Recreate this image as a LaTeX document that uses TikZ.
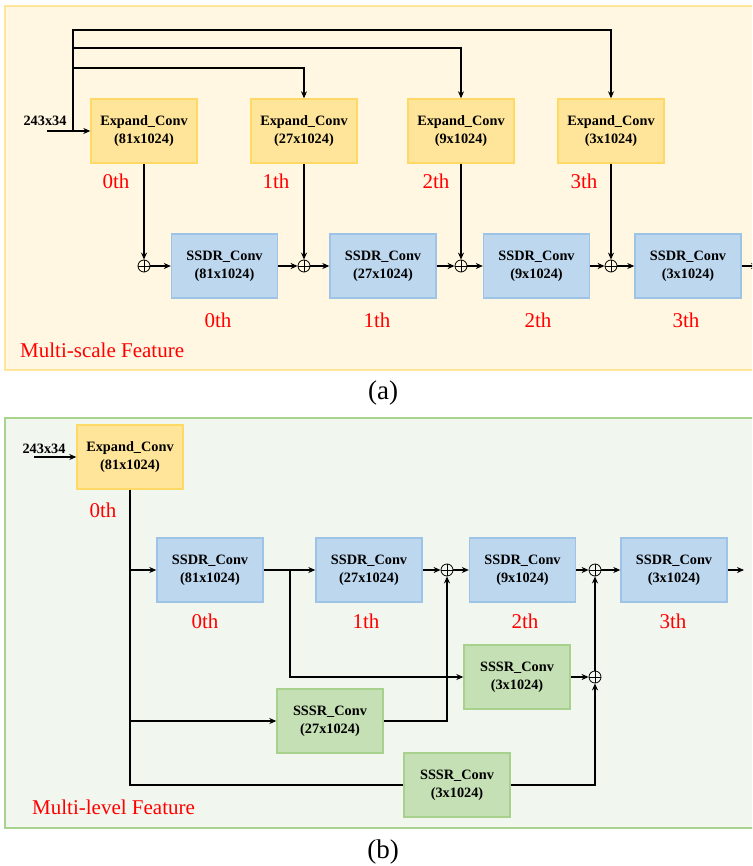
\documentclass[tikz,border=0pt]{standalone}
\usepackage{fontspec}
\setmainfont{Liberation Serif}
\usetikzlibrary{arrows.meta,calc}
\definecolor{pafill}{HTML}{FFF7E1}
\definecolor{padraw}{HTML}{FFE599}
\definecolor{pbfill}{HTML}{F1F6EE}
\definecolor{pbdraw}{HTML}{A9D48F}
\definecolor{expfill}{HTML}{FFE599}
\definecolor{expdraw}{HTML}{FFD966}
\definecolor{sdfill}{HTML}{BDD7EE}
\definecolor{sddraw}{HTML}{9DC3E6}
\definecolor{ssfill}{HTML}{C5E0B4}
\definecolor{ssdraw}{HTML}{A9D18E}
\tikzset{
  blk/.style={minimum width=106pt,minimum height=64pt,inner sep=0pt,line width=1.4pt,
    align=center,font=\fontsize{14.3}{18}\selectfont\bfseries},
  expbox/.style={blk,fill=expfill,draw=expdraw},
  sdbox/.style={blk,fill=sdfill,draw=sddraw},
  ssbox/.style={blk,fill=ssfill,draw=ssdraw},
  oplus/.style={circle,draw,line width=0.8pt,minimum size=12pt,inner sep=0pt,
    path picture={\draw[line width=0.8pt] (path picture bounding box.north) -- (path picture bounding box.south)
      (path picture bounding box.west) -- (path picture bounding box.east);}},
  arr/.style={line width=1.2pt,-{Stealth[length=7pt,width=6pt]}},
  ln/.style={line width=1.2pt},
  redlab/.style={text=red,font=\fontsize{21}{24}\selectfont,inner sep=0pt},
  inlab/.style={font=\fontsize{14.3}{16}\selectfont\bfseries,inner sep=0pt},
  captext/.style={font=\fontsize{27}{30}\selectfont,inner sep=0pt}
}
\begin{document}
\begin{tikzpicture}[x=1pt,y=-1pt]
\useasboundingbox (0,0) rectangle (752,866);
\begin{scope}
\clip (0,0) rectangle (752,866);
% ---------------- panel (a)
\path[fill=pafill,draw=padraw,line width=1.5pt] (5,6) rectangle (770,370);
\node[expbox] (e0) at (144,131) {Expand\_Conv\\(81x1024)};
\node[expbox] (e1) at (304,131) {Expand\_Conv\\(27x1024)};
\node[expbox] (e2) at (461,131) {Expand\_Conv\\(9x1024)};
\node[expbox] (e3) at (611,131) {Expand\_Conv\\(3x1024)};
\node[sdbox] (s0) at (224.5,266) {SSDR\_Conv\\(81x1024)};
\node[sdbox] (s1) at (383,266) {SSDR\_Conv\\(27x1024)};
\node[sdbox] (s2) at (536.5,266) {SSDR\_Conv\\(9x1024)};
\node[sdbox] (s3) at (688,266) {SSDR\_Conv\\(3x1024)};
\node[oplus] (c0) at (144,266) {};
\node[oplus] (c1) at (304,266) {};
\node[oplus] (c2) at (461,266) {};
\node[oplus] (c3) at (611,266) {};
\node[inlab] (inlab) at (45,121) {243x34};
\coordinate (ain) at (47,131);
\coordinate (aj) at (73,131);
\coordinate (k1) at (73,68);
\coordinate (k2) at (73,48);
\coordinate (k3) at (73,30);
\coordinate (aout) at (758,266);
\draw[arr] (ain) -- (e0.west);
\draw[arr] (aj) -- (k1) -| (e1.north);
\draw[arr] (k1) -- (k2) -| (e2.north);
\draw[arr] (k2) -- (k3) -| (e3.north);
\draw[arr] (e0.south) -- (c0.north);
\draw[arr] (e1.south) -- (c1.north);
\draw[arr] (e2.south) -- (c2.north);
\draw[arr] (e3.south) -- (c3.north);
\draw[arr] (c0.east) -- (s0.west);
\draw[arr] (s0.east) -- (c1.west);
\draw[arr] (c1.east) -- (s1.west);
\draw[arr] (s1.east) -- (c2.west);
\draw[arr] (c2.east) -- (s2.west);
\draw[arr] (s2.east) -- (c3.west);
\draw[arr] (c3.east) -- (s3.west);
\draw[arr] (s3.east) -- (aout);
\node[redlab] (la0) at (116,181) {0th};
\node[redlab] (la1) at (276,181) {1th};
\node[redlab] (la2) at (436,181) {2th};
\node[redlab] (la3) at (584,181) {3th};
\node[redlab] (lb0) at (218,320) {0th};
\node[redlab] (lb1) at (377,320) {1th};
\node[redlab] (lb2) at (538,320) {2th};
\node[redlab] (lb3) at (686,320) {3th};
\node[redlab,anchor=west] (fa) at (20,350) {Multi-scale Feature};
\node[captext] (capa) at (383,393) {(a)};
% ---------------- panel (b)
\path[fill=pbfill,draw=pbdraw,line width=1.5pt] (5,418) rectangle (770,828);
\node[expbox] (eb) at (130,457) {Expand\_Conv\\(81x1024)};
\node[sdbox] (t0) at (210,570) {SSDR\_Conv\\(81x1024)};
\node[sdbox] (t1) at (369,570) {SSDR\_Conv\\(27x1024)};
\node[sdbox] (t2) at (522.5,570) {SSDR\_Conv\\(9x1024)};
\node[sdbox] (t3) at (674,570) {SSDR\_Conv\\(3x1024)};
\node[ssbox] (g3m) at (517,677) {SSSR\_Conv\\(3x1024)};
\node[ssbox] (g27) at (330,721) {SSSR\_Conv\\(27x1024)};
\node[ssbox] (g3b) at (457,785) {SSSR\_Conv\\(3x1024)};
\node[oplus] (d1) at (447,570) {};
\node[oplus] (d2) at (595,570) {};
\node[oplus] (d3) at (595,677) {};
\node[inlab] (inlabb) at (44,449) {243x34};
\coordinate (bin) at (34,457);
\coordinate (v1) at (130,570);
\coordinate (v2) at (130,721);
\coordinate (v3) at (130,785);
\coordinate (br) at (290,570);
\coordinate (bout) at (744,570);
\draw[arr] (bin) -- (eb.west);
\draw[ln] (eb.south) -- (v3) -- (g3b.west);
\draw[arr] (v1) -- (t0.west);
\draw[arr] (v2) -- (g27.west);
\draw[arr] (t0.east) -- (t1.west);
\draw[arr] (br) |- (g3m.west);
\draw[arr] (t1.east) -- (d1.west);
\draw[arr] (d1.east) -- (t2.west);
\draw[arr] (t2.east) -- (d2.west);
\draw[arr] (d2.east) -- (t3.west);
\draw[arr] (t3.east) -- (bout);
\draw[arr] (g27.east) -| (d1.south);
\draw[arr] (g3m.east) -- (d3.west);
\draw[arr] (g3b.east) -| (d3.south);
\draw[arr] (d3.north) -- (d2.south);
\node[redlab] (lc0) at (103,510) {0th};
\node[redlab] (ld0) at (205,621) {0th};
\node[redlab] (ld1) at (366,621) {1th};
\node[redlab] (ld2) at (525,621) {2th};
\node[redlab] (ld3) at (673,621) {3th};
\node[redlab,anchor=west] (fb) at (32,807) {Multi-level Feature};
\node[captext] (capb) at (383,852) {(b)};
\end{scope}
\end{tikzpicture}
\end{document}
